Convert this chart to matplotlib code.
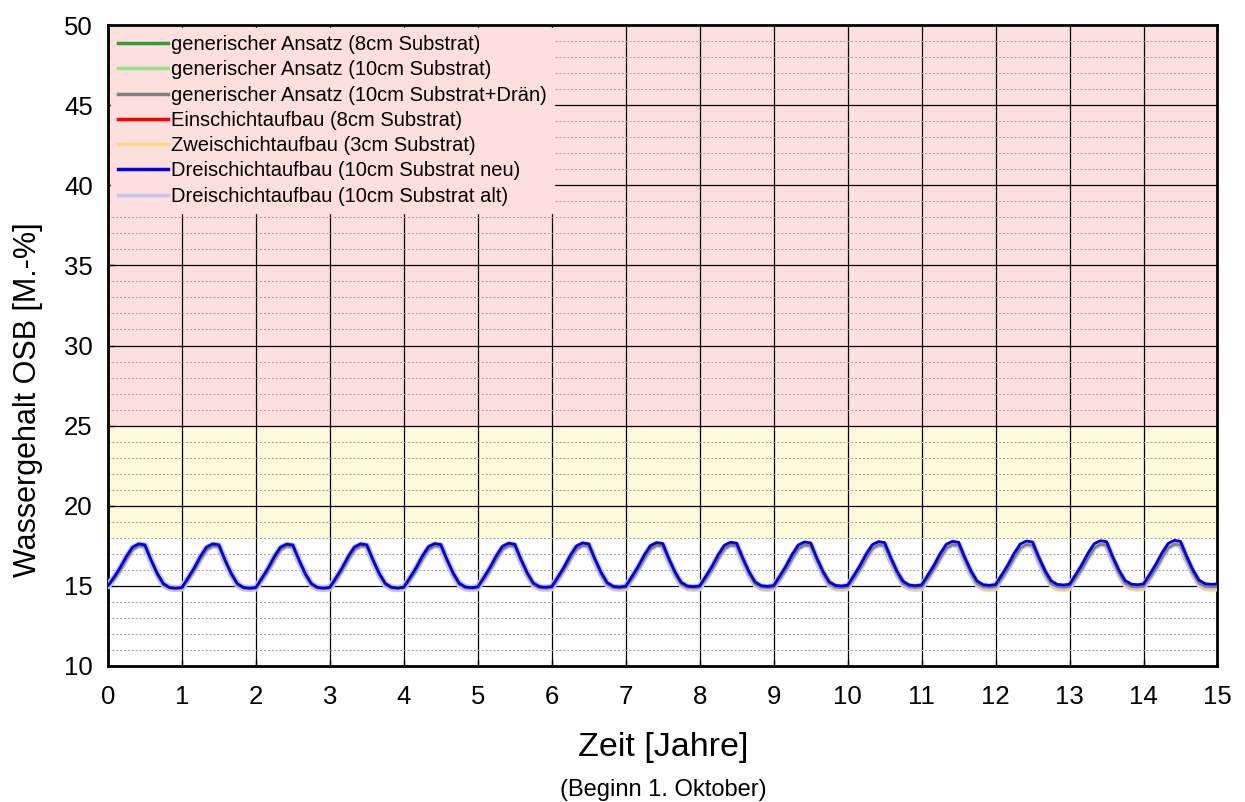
import numpy as np
import matplotlib
matplotlib.use("Agg")
import matplotlib.pyplot as plt
from matplotlib.ticker import MultipleLocator

plt.rcParams['font.family'] = ['Liberation Sans', 'DejaVu Sans']

# ---- Data (monthly values, Oct..Sep, one row per simulation year) ----
labels = [
    "generischer Ansatz (8cm Substrat)",
    "generischer Ansatz (10cm Substrat)",
    "generischer Ansatz (10cm Substrat+Drän)",
    "Einschichtaufbau (8cm Substrat)",
    "Zweischichtaufbau (3cm Substrat)",
    "Dreischichtaufbau (10cm Substrat neu)",
    "Dreischichtaufbau (10cm Substrat alt)",
]
colors = ["#2e9e3a", "#92e38a", "#808080", "#ff0000", "#ffd382", "#0000e0", "#c4c4f0"]
widths = [2.0, 2.0, 2.0, 2.0, 3.0, 2.0, 5.0]

gen_8cm = [
    [15.00,15.44,16.00,16.68,17.27,17.51,17.46,16.55,15.70,15.06,14.86,14.82],
    [14.87,15.39,15.97,16.66,17.26,17.50,17.45,16.55,15.70,15.06,14.86,14.82],
    [14.87,15.39,15.97,16.66,17.26,17.49,17.45,16.55,15.70,15.06,14.86,14.83],
    [14.87,15.39,15.97,16.66,17.27,17.50,17.46,16.56,15.71,15.07,14.87,14.83],
    [14.88,15.40,15.98,16.67,17.28,17.51,17.47,16.57,15.72,15.08,14.88,14.84],
    [14.89,15.41,15.99,16.68,17.29,17.52,17.48,16.58,15.73,15.09,14.89,14.85],
    [14.90,15.42,16.00,16.69,17.30,17.53,17.49,16.59,15.74,15.10,14.90,14.86],
    [14.91,15.43,16.01,16.70,17.31,17.54,17.50,16.60,15.75,15.11,14.91,14.87],
    [14.92,15.44,16.02,16.71,17.32,17.55,17.51,16.61,15.76,15.12,14.92,14.88],
    [14.93,15.45,16.03,16.72,17.33,17.56,17.52,16.62,15.77,15.13,14.93,14.89],
    [14.94,15.46,16.04,16.73,17.34,17.57,17.53,16.63,15.78,15.14,14.94,14.90],
    [14.95,15.47,16.05,16.74,17.35,17.58,17.54,16.64,15.79,15.15,14.95,14.91],
    [14.96,15.48,16.06,16.75,17.36,17.59,17.55,16.65,15.80,15.16,14.96,14.92],
    [14.97,15.49,16.07,16.76,17.37,17.60,17.56,16.66,15.81,15.17,14.97,14.93],
    [14.98,15.50,16.08,16.77,17.38,17.61,17.57,16.67,15.82,15.18,14.98,14.94],
]
gen_8cm_end = 14.96

gen_10cm = [
    [15.00,15.42,15.98,16.66,17.25,17.49,17.44,16.53,15.68,15.04,14.84,14.80],
    [14.85,15.37,15.95,16.64,17.24,17.48,17.43,16.53,15.68,15.04,14.84,14.80],
    [14.85,15.37,15.95,16.64,17.24,17.47,17.43,16.53,15.68,15.04,14.84,14.81],
    [14.85,15.37,15.95,16.64,17.25,17.48,17.44,16.54,15.69,15.05,14.85,14.81],
    [14.86,15.38,15.96,16.65,17.26,17.49,17.45,16.55,15.70,15.06,14.86,14.82],
    [14.87,15.39,15.97,16.66,17.27,17.50,17.46,16.56,15.71,15.07,14.87,14.83],
    [14.88,15.40,15.98,16.67,17.28,17.51,17.47,16.57,15.72,15.08,14.88,14.84],
    [14.89,15.41,15.99,16.68,17.29,17.52,17.48,16.58,15.73,15.09,14.89,14.85],
    [14.90,15.42,16.00,16.69,17.30,17.53,17.49,16.59,15.74,15.10,14.90,14.86],
    [14.91,15.43,16.01,16.70,17.31,17.54,17.50,16.60,15.75,15.11,14.91,14.87],
    [14.92,15.44,16.02,16.71,17.32,17.55,17.51,16.61,15.76,15.12,14.92,14.88],
    [14.93,15.45,16.03,16.72,17.33,17.56,17.52,16.62,15.77,15.13,14.93,14.89],
    [14.94,15.46,16.04,16.73,17.34,17.57,17.53,16.63,15.78,15.14,14.94,14.90],
    [14.95,15.47,16.05,16.74,17.35,17.58,17.54,16.64,15.79,15.15,14.95,14.91],
    [14.96,15.48,16.06,16.75,17.36,17.59,17.55,16.65,15.80,15.16,14.96,14.92],
]
gen_10cm_end = 14.94

gen_10cm_drain = [
    [15.00,15.42,15.98,16.66,17.26,17.50,17.46,16.56,15.70,15.06,14.86,14.82],
    [14.86,15.38,15.96,16.65,17.25,17.49,17.45,16.55,15.70,15.06,14.86,14.82],
    [14.86,15.38,15.96,16.65,17.25,17.48,17.44,16.55,15.70,15.06,14.86,14.82],
    [14.86,15.38,15.96,16.65,17.26,17.49,17.45,16.56,15.70,15.07,14.86,14.83],
    [14.87,15.39,15.97,16.66,17.27,17.50,17.46,16.57,15.71,15.07,14.87,14.84],
    [14.88,15.40,15.98,16.67,17.28,17.51,17.47,16.58,15.72,15.08,14.88,14.85],
    [14.89,15.41,15.99,16.68,17.29,17.52,17.48,16.59,15.73,15.09,14.89,14.86],
    [14.90,15.42,16.00,16.69,17.30,17.53,17.49,16.60,15.74,15.10,14.90,14.87],
    [14.91,15.43,16.01,16.70,17.31,17.54,17.50,16.61,15.75,15.11,14.91,14.88],
    [14.92,15.44,16.02,16.71,17.32,17.55,17.51,16.62,15.76,15.12,14.92,14.89],
    [14.93,15.45,16.03,16.72,17.33,17.56,17.52,16.63,15.77,15.13,14.93,14.90],
    [14.94,15.46,16.04,16.73,17.34,17.57,17.53,16.64,15.78,15.14,14.94,14.91],
    [14.95,15.47,16.05,16.74,17.35,17.58,17.54,16.65,15.79,15.15,14.95,14.92],
    [14.96,15.48,16.06,16.75,17.36,17.59,17.55,16.66,15.80,15.16,14.96,14.93],
    [14.97,15.49,16.07,16.76,17.37,17.60,17.56,16.67,15.81,15.17,14.97,14.94],
]
gen_10cm_drain_end = 14.96

einschicht_8cm = [
    [15.00,15.48,16.06,16.74,17.32,17.54,17.48,16.55,15.73,15.09,14.87,14.83],
    [14.87,15.44,16.04,16.74,17.32,17.54,17.48,16.55,15.73,15.09,14.87,14.83],
    [14.87,15.44,16.04,16.74,17.32,17.53,17.47,16.54,15.73,15.09,14.87,14.83],
    [14.88,15.44,16.04,16.74,17.32,17.54,17.48,16.55,15.73,15.09,14.87,14.84],
    [14.89,15.45,16.05,16.75,17.33,17.55,17.49,16.56,15.74,15.10,14.88,14.85],
    [14.90,15.46,16.06,16.76,17.34,17.56,17.50,16.57,15.75,15.11,14.89,14.86],
    [14.91,15.47,16.07,16.77,17.35,17.57,17.51,16.58,15.76,15.12,14.90,14.87],
    [14.92,15.48,16.08,16.78,17.36,17.58,17.52,16.59,15.77,15.13,14.91,14.88],
    [14.93,15.49,16.09,16.79,17.37,17.59,17.53,16.60,15.78,15.14,14.92,14.89],
    [14.94,15.50,16.10,16.80,17.38,17.60,17.54,16.61,15.79,15.15,14.93,14.90],
    [14.95,15.51,16.11,16.81,17.39,17.61,17.55,16.62,15.80,15.16,14.94,14.91],
    [14.96,15.52,16.12,16.82,17.40,17.62,17.56,16.63,15.81,15.17,14.95,14.92],
    [14.97,15.53,16.13,16.83,17.41,17.63,17.57,16.64,15.82,15.18,14.96,14.93],
    [14.98,15.54,16.14,16.84,17.42,17.64,17.58,16.65,15.83,15.19,14.97,14.94],
    [14.99,15.55,16.15,16.85,17.43,17.65,17.59,16.66,15.84,15.20,14.98,14.95],
]
einschicht_8cm_end = 14.97

zweischicht_3cm = [
    [15.00,15.45,16.02,16.70,17.28,17.50,17.44,16.50,15.62,14.98,14.78,14.74],
    [14.78,15.40,16.00,16.69,17.27,17.49,17.43,16.49,15.61,14.97,14.77,14.73],
    [14.77,15.40,16.00,16.69,17.27,17.49,17.43,16.49,15.61,14.97,14.77,14.73],
    [14.77,15.40,16.00,16.69,17.28,17.50,17.44,16.50,15.62,14.97,14.77,14.73],
    [14.77,15.41,16.01,16.70,17.28,17.50,17.44,16.50,15.62,14.98,14.77,14.73],
    [14.78,15.41,16.01,16.70,17.29,17.51,17.45,16.51,15.63,14.98,14.78,14.74],
    [14.78,15.42,16.02,16.71,17.29,17.51,17.45,16.51,15.63,14.98,14.78,14.74],
    [14.78,15.42,16.02,16.71,17.30,17.52,17.46,16.52,15.64,14.99,14.78,14.74],
    [14.78,15.43,16.03,16.72,17.30,17.52,17.46,16.52,15.64,14.99,14.78,14.74],
    [14.79,15.43,16.03,16.72,17.31,17.53,17.47,16.53,15.65,14.99,14.79,14.75],
    [14.79,15.44,16.04,16.73,17.31,17.53,17.47,16.53,15.65,15.00,14.79,14.75],
    [14.79,15.44,16.04,16.73,17.32,17.54,17.48,16.54,15.66,15.00,14.79,14.75],
    [14.79,15.45,16.05,16.74,17.32,17.54,17.48,16.54,15.66,15.00,14.79,14.75],
    [14.80,15.45,16.05,16.74,17.33,17.55,17.49,16.55,15.67,15.01,14.80,14.76],
    [14.80,15.46,16.06,16.75,17.33,17.55,17.49,16.55,15.67,15.01,14.80,14.76],
]
zweischicht_3cm_end = 14.78

drei_neu = [
    [15.00,15.55,16.15,16.85,17.42,17.62,17.56,16.62,15.78,15.14,14.90,14.86],
    [14.90,15.50,16.12,16.84,17.42,17.62,17.56,16.62,15.78,15.14,14.90,14.86],
    [14.90,15.50,16.12,16.84,17.42,17.60,17.55,16.62,15.78,15.14,14.90,14.86],
    [14.91,15.51,16.13,16.85,17.43,17.62,17.56,16.63,15.79,15.15,14.91,14.87],
    [14.92,15.52,16.14,16.86,17.45,17.64,17.58,16.65,15.81,15.16,14.93,14.89],
    [14.94,15.54,16.16,16.88,17.47,17.66,17.60,16.67,15.83,15.18,14.95,14.91],
    [14.96,15.56,16.18,16.90,17.49,17.68,17.62,16.69,15.85,15.20,14.97,14.93],
    [14.98,15.58,16.20,16.92,17.51,17.70,17.64,16.71,15.87,15.22,14.99,14.95],
    [15.00,15.60,16.22,16.94,17.53,17.72,17.66,16.73,15.89,15.24,15.01,14.97],
    [15.02,15.62,16.24,16.96,17.55,17.74,17.68,16.75,15.91,15.26,15.03,14.99],
    [15.04,15.64,16.26,16.98,17.57,17.76,17.70,16.77,15.93,15.28,15.05,15.01],
    [15.06,15.66,16.28,17.00,17.59,17.78,17.72,16.79,15.95,15.30,15.07,15.03],
    [15.08,15.68,16.30,17.02,17.61,17.80,17.74,16.81,15.97,15.32,15.09,15.05],
    [15.10,15.70,16.32,17.04,17.63,17.82,17.76,16.83,15.99,15.34,15.11,15.07],
    [15.12,15.72,16.34,17.06,17.65,17.84,17.78,16.85,16.01,15.36,15.13,15.10],
]
drei_neu_end = 15.12

drei_alt = [
    [15.00,15.50,16.08,16.76,17.34,17.56,17.50,16.56,15.74,15.10,14.88,14.84],
    [14.88,15.45,16.05,16.75,17.33,17.55,17.49,16.56,15.74,15.10,14.88,14.84],
    [14.88,15.45,16.05,16.75,17.33,17.54,17.48,16.55,15.74,15.10,14.88,14.84],
    [14.89,15.45,16.05,16.75,17.33,17.55,17.49,16.56,15.74,15.10,14.88,14.85],
    [14.90,15.46,16.06,16.76,17.34,17.56,17.50,16.57,15.75,15.11,14.89,14.86],
    [14.91,15.47,16.07,16.77,17.35,17.57,17.51,16.58,15.76,15.12,14.90,14.87],
    [14.92,15.48,16.08,16.78,17.36,17.58,17.52,16.59,15.77,15.13,14.91,14.88],
    [14.93,15.49,16.09,16.79,17.37,17.59,17.53,16.60,15.78,15.14,14.92,14.89],
    [14.94,15.50,16.10,16.80,17.38,17.60,17.54,16.61,15.79,15.15,14.93,14.90],
    [14.95,15.51,16.11,16.81,17.39,17.61,17.55,16.62,15.80,15.16,14.94,14.91],
    [14.96,15.52,16.12,16.82,17.40,17.62,17.56,16.63,15.81,15.17,14.95,14.92],
    [14.97,15.53,16.13,16.83,17.41,17.63,17.57,16.64,15.82,15.18,14.96,14.93],
    [14.98,15.54,16.14,16.84,17.42,17.64,17.58,16.65,15.83,15.19,14.97,14.94],
    [14.99,15.55,16.15,16.85,17.43,17.65,17.59,16.66,15.84,15.20,14.98,14.95],
    [15.00,15.56,16.16,16.86,17.44,17.66,17.60,16.67,15.85,15.21,14.99,14.96],
]
drei_alt_end = 14.98

series = [
    (gen_8cm, gen_8cm_end),
    (gen_10cm, gen_10cm_end),
    (gen_10cm_drain, gen_10cm_drain_end),
    (einschicht_8cm, einschicht_8cm_end),
    (zweischicht_3cm, zweischicht_3cm_end),
    (drei_neu, drei_neu_end),
    (drei_alt, drei_alt_end),
]
# draw order (bottom -> top)
draw_order = [0, 1, 3, 4, 6, 2, 5]

x_ticks = list(range(0, 16))
y_ticks = [10, 15, 20, 25, 30, 35, 40, 45, 50]

# ---- Figure ----
fig = plt.figure(figsize=(12.45, 8.02), dpi=100)
ax = fig.add_axes([0.0867, 0.1696, 0.8912, 0.7992])

ax.set_xlim(0, 15)
ax.set_ylim(10, 50)

ax.axhspan(25, 50, color="#fde0dd", zorder=0, lw=0)
ax.axhspan(18, 25, color="#fdfbd9", zorder=0, lw=0)

ax.yaxis.set_minor_locator(MultipleLocator(1))
ax.set_xticks(x_ticks)
ax.set_yticks(y_ticks)
ax.grid(which="minor", axis="y", color="#9a9a9a", linestyle=(0, (2, 2)), lw=0.7, zorder=1)
ax.grid(which="major", axis="both", color="black", linestyle="-", lw=0.9, zorder=1)
ax.set_axisbelow(True)

for i in draw_order:
    rows, end = series[i]
    y = np.concatenate([np.asarray(r) for r in rows] + [[end]])
    t = np.arange(len(y)) / 12.0
    ax.plot(t, y, color=colors[i], lw=widths[i], zorder=3 + draw_order.index(i),
            solid_capstyle="round", solid_joinstyle="round")

leg_handles = [plt.Line2D([], [], color=colors[i], lw=2.5) for i in range(7)]
leg = ax.legend(leg_handles, labels, loc="upper left", bbox_to_anchor=(0.0, 1.0),
                frameon=True, fontsize=14.5, handlelength=2.5, handletextpad=0.12,
                labelspacing=0.31, borderpad=0.35, borderaxespad=0.15, fancybox=False)
leg.get_frame().set_facecolor("#fde0dd")
leg.get_frame().set_edgecolor("#fde0dd")
leg.get_frame().set_alpha(1.0)
leg.set_zorder(20)

for s in ax.spines.values():
    s.set_linewidth(2.0)
ax.tick_params(axis="both", which="major", direction="in", length=4, width=1,
               labelsize=18.5)
ax.tick_params(axis="y", which="major", pad=11)
ax.tick_params(axis="x", which="major", pad=14)
ax.tick_params(axis="y", which="minor", length=0)

ax.set_ylabel("Wassergehalt OSB [M.-%]", fontsize=22)
ax.yaxis.set_label_coords(-0.0586, 0.415)
ax.set_xlabel("Zeit [Jahre]", fontsize=24.5, labelpad=16)
fig.text(0.5325, 0.0145, "(Beginn 1. Oktober)", ha="center", va="center", fontsize=17)

fig.savefig("out.png", dpi=100)
